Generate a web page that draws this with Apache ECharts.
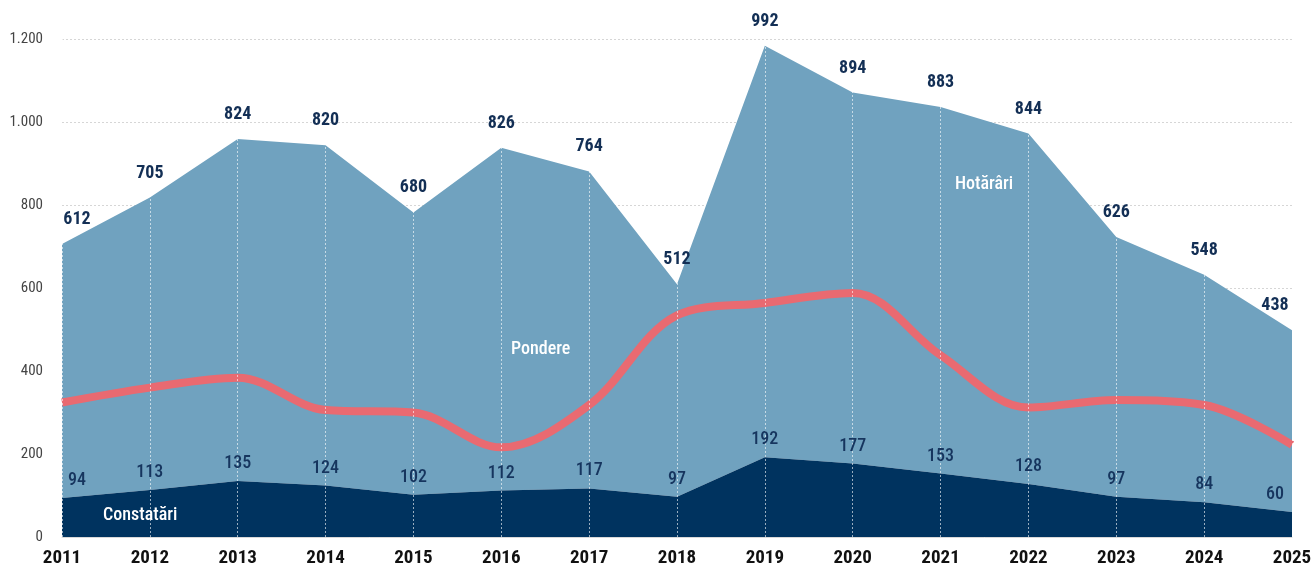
<!DOCTYPE html>
<html>
<head>
<meta charset="utf-8">
<script src="https://cdn.jsdelivr.net/npm/echarts@6/dist/echarts.min.js"></script>
<style>
  html, body { margin: 0; padding: 0; background: #fff; }
  #chart { width: 1311px; height: 572px; }
</style>
</head>
<body>
<div id="chart"></div>
<script>
const FONT = '"Roboto Condensed", "Liberation Sans Narrow", Roboto, sans-serif';

const years = ['2011', '2012', '2013', '2014', '2015', '2016', '2017', '2018',
  '2019', '2020', '2021', '2022', '2023', '2024', '2025'];
const constatari = [94, 113, 135, 124, 102, 112, 117, 97, 192, 177, 153, 128, 97, 84, 60];
const hotarari = [612, 705, 824, 820, 680, 826, 764, 512, 992, 894, 883, 844, 626, 548, 438];
// pondere in % (10..30)
const pondere = [15.4, 16.0, 16.4, 15.1, 15.0, 13.6, 15.3, 18.9, 19.4, 19.8, 17.3, 15.2, 15.5, 15.3, 13.7];

const NAVY = '#00335f';
const LIGHT = '#70a2bf';
const RED = '#e96a71';

// first and last labels are pushed inward so they stay inside the plot
const edgeOffset = (i) => {
  if (i === 0) return [15, 0];
  if (i === years.length - 1) return [-17, 0];
  return [0, 0];
};
const withOffsets = (arr) => arr.map((v, i) => ({
  value: v,
  label: { offset: edgeOffset(i) }
}));

// area series sit under the dotted year lines, label series sit above them
const areaSeries = (name, data, color, z) => ({
  name,
  type: 'line',
  stack: 'area',
  data,
  symbol: 'none',
  lineStyle: { width: 0 },
  areaStyle: { color, opacity: 1 },
  z
});
const labelSeries = (name, data, label) => ({
  name,
  type: 'line',
  stack: 'labels',
  data: withOffsets(data),
  symbol: 'circle',
  symbolSize: 1,
  showSymbol: true,
  itemStyle: { color: 'rgba(0,0,0,0)' },
  lineStyle: { width: 0 },
  silent: true,
  z: 6,
  label: Object.assign({ show: true, position: 'top', fontFamily: FONT }, label)
});

const chart = echarts.init(document.getElementById('chart'));
chart.setOption({
  animation: false,
  grid: { left: 62, right: 19, top: 39, bottom: 35, outerBoundsMode: 'none', containLabel: false },
  xAxis: {
    type: 'category',
    data: years,
    boundaryGap: false,
    z: 4,
    axisLine: { show: true, lineStyle: { color: '#d9d9d9', width: 1 } },
    axisTick: { show: false },
    axisLabel: {
      color: '#111',
      fontFamily: FONT,
      fontSize: 19,
      fontWeight: 'bold',
      margin: 12
    },
    splitLine: {
      show: true,
      lineStyle: { color: 'rgba(255,255,255,0.6)', type: [2, 2], width: 1 }
    }
  },
  yAxis: [
    {
      type: 'value',
      min: 0,
      max: 1200,
      interval: 200,
      axisLine: { show: false },
      axisTick: { show: false },
      axisLabel: {
        color: '#444',
        fontFamily: FONT,
        fontSize: 15,
        margin: 19,
        formatter: (v) => v >= 1000 ? String(v).replace(/(\d)(\d{3})$/, '$1.$2') : String(v)
      },
      splitLine: {
        show: true,
        lineStyle: { color: '#d6d6d6', type: [2, 2], width: 1 }
      }
    },
    {
      type: 'value',
      min: 10,
      max: 30,
      show: false,
      splitLine: { show: false }
    }
  ],
  series: [
    areaSeries('Constatări', constatari, NAVY, 2),
    areaSeries('Hotărâri', hotarari, LIGHT, 1),
    {
      name: 'Pondere',
      type: 'line',
      yAxisIndex: 1,
      data: pondere,
      smooth: 0.35,
      symbol: 'none',
      lineStyle: { color: RED, width: 8 },
      z: 3
    },
    labelSeries('Constatări', constatari, {
      distance: 8, color: '#16355e', fontSize: 18, fontWeight: 500
    }),
    labelSeries('Hotărâri', hotarari, {
      distance: 15, color: '#132f55', fontSize: 18, fontWeight: 'bold'
    })
  ],
  graphic: [
    {
      type: 'text', left: 955, top: 175, z: 10,
      style: { text: 'Hotărâri', fill: '#fff', font: '500 18px ' + FONT }
    },
    {
      type: 'text', left: 511, top: 340, z: 10,
      style: { text: 'Pondere', fill: '#fff', font: '500 18px ' + FONT }
    },
    {
      type: 'text', left: 103, top: 506, z: 10,
      style: { text: 'Constatări', fill: '#fff', font: '500 18px ' + FONT }
    }
  ]
});
</script>
</body>
</html>
